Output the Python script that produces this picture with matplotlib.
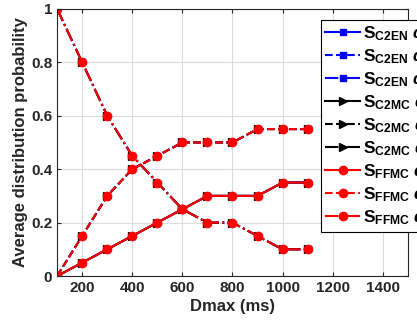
import numpy as np
import matplotlib
matplotlib.use("Agg")
import matplotlib.pyplot as plt

plt.rcParams['font.family'] = ['Liberation Sans', 'DejaVu Sans']
plt.rcParams['font.weight'] = 'bold'
plt.rcParams['mathtext.fontset'] = 'custom'
plt.rcParams['mathtext.rm'] = 'Liberation Sans'
plt.rcParams['mathtext.bf'] = 'Liberation Sans:bold'
plt.rcParams['mathtext.it'] = 'Liberation Sans:italic'

# Dmax (ms)
dmax = [100, 200, 300, 400, 500, 600, 700, 800, 900, 1000, 1100]

# probabilities for alpha_u, alpha_e, alpha_m (same for all schemes)
p_u = [0, 0.05, 0.10, 0.15, 0.20, 0.25, 0.30, 0.30, 0.30, 0.35, 0.35]
p_e = [0, 0.15, 0.30, 0.40, 0.45, 0.50, 0.50, 0.50, 0.55, 0.55, 0.55]
p_m = [1.0, 0.80, 0.60, 0.45, 0.35, 0.25, 0.20, 0.20, 0.15, 0.10, 0.10]

schemes = ['C2EN', 'C2MC', 'FFMC']
colors = {'C2EN': 'blue', 'C2MC': 'black', 'FFMC': 'red'}
markers = {'C2EN': 's', 'C2MC': '>', 'FFMC': 'o'}
states = [('u', p_u, '-'), ('e', p_e, '--'), ('m', p_m, '-.')]

fig = plt.figure(figsize=(4.17, 3.29), dpi=100)
ax = fig.add_axes([0.137, 0.161, 0.841, 0.812])

for s in schemes:
    for a, vals, ls in states:
        ax.plot(dmax, vals, linestyle=ls, color=colors[s], marker=markers[s],
                markersize=6 if s != 'C2EN' else 5, linewidth=1.5,
                label=r'$\mathbf{S}_{\mathbf{%s}}$ $\alpha_{%s}$' % (s, a))

ax.set_xlim(100, 1500)
ax.set_ylim(0, 1)
ax.set_xticks([200, 400, 600, 800, 1000, 1200, 1400])
ax.set_yticks([0, 0.2, 0.4, 0.6, 0.8, 1])
ax.set_yticklabels(['0', '0.2', '0.4', '0.6', '0.8', '1'])
ax.tick_params(direction='in', top=True, right=True, labelsize=11,
               colors='#262626', length=3)
for lab in ax.get_xticklabels() + ax.get_yticklabels():
    lab.set_fontweight('bold')
for sp in ax.spines.values():
    sp.set_color('#262626')
    sp.set_linewidth(0.8)
ax.grid(True, color='#dcdcdc', linewidth=0.8)
ax.set_axisbelow(True)

ax.set_xlabel('Dmax (ms)', fontsize=12, fontweight='bold', color='#262626',
              labelpad=3)
ax.set_ylabel('Average distribution probability', fontsize=12,
              fontweight='bold', color='#262626', labelpad=2)

leg = ax.legend(loc='upper left', bbox_to_anchor=(0.752, 0.959), fontsize=12.5,
                handlelength=2.0, handletextpad=0.15, labelspacing=0.25,
                borderpad=0.25, borderaxespad=0, framealpha=1, fancybox=False,
                edgecolor='black')
leg.get_frame().set_linewidth(0.8)

fig.savefig('out.png', dpi=100)
